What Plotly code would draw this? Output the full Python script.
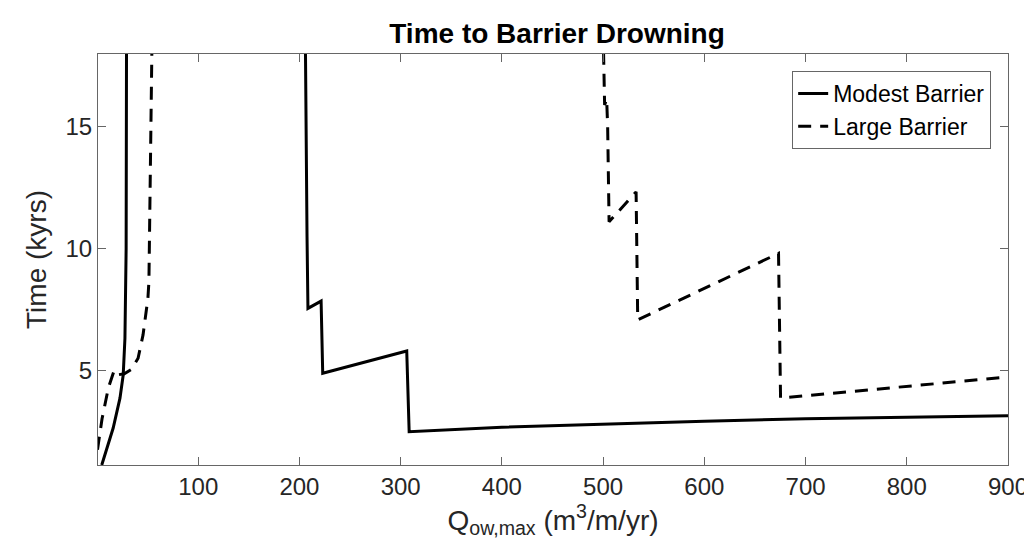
import plotly.graph_objects as go

# Modest Barrier (solid) - two branches separated by a gap
modest_x = [4.7, 10, 16, 22.7, 25.9, 27.6, 28.2, 28.8, 29.2, None,
            205.5, 206, 207.5, 208.4, 221.4, 223, 306, 308.4,
            400, 500, 600, 700, 800, 900]
modest_y = [1.1, 1.85, 2.62, 3.85, 4.8, 6.3, 7.5, 10, 19, None,
            19, 17.9, 10.5, 7.54, 7.84, 4.87, 5.79, 2.47,
            2.65, 2.79, 2.9, 3.0, 3.07, 3.13]

# Large Barrier (dashed)
large_x = [0.5, 5, 11.2, 16.8, 19.4, 27, 34, 40.6, 45.5, 48.7, 50.3, 51.3, 53.6, 54.5, None,
           500, 500.5, 501.5, 503.5, 504.5, 505.9, 532.6, 534.2, 673.3, 675.3, 900]
large_y = [1.73, 3.0, 4.26, 4.97, 4.8, 4.85, 5.03, 5.49, 6.45, 7.54, 7.95, 8.65, 18, 19, None,
           19, 17.9, 15.9, 16.15, 15.0, 11.1, 12.33, 7.07, 9.8, 3.85, 4.72]

x_ticks = [100, 200, 300, 400, 500, 600, 700, 800, 900]
y_ticks = [5, 10, 15]

FONT = "Arial, 'Liberation Sans', Helvetica, sans-serif"

fig = go.Figure()
fig.add_trace(go.Scatter(x=modest_x, y=modest_y, mode="lines", name="Modest Barrier",
                         line=dict(color="black", width=3), connectgaps=False))
fig.add_trace(go.Scatter(x=large_x, y=large_y, mode="lines", name="Large Barrier",
                         line=dict(color="black", width=3, dash="13px,9px"), connectgaps=False))

axis_common = dict(showline=True, linecolor="#666666", linewidth=1, mirror="ticks",
                   ticks="inside", ticklen=8, tickcolor="#666666", showgrid=False,
                   zeroline=False, tickfont=dict(family=FONT, size=24, color="#262626"))

fig.update_layout(
    width=1032, height=550,
    margin=dict(l=90, r=24, t=46, b=93),
    plot_bgcolor="white", paper_bgcolor="white",
    title=dict(text="<b>Time to Barrier Drowning</b>", x=0.532, xanchor="center",
               y=1 - 25 / 550, yanchor="middle", yref="container",
               font=dict(family=FONT, size=28, color="black")),
    xaxis=dict(range=[1, 900], tickvals=x_ticks, **axis_common,
               title=dict(text="Q<sub>ow,max</sub> (m<sup>3</sup>/m/yr)",
                          font=dict(family=FONT, size=28, color="#262626"), standoff=6)),
    yaxis=dict(range=[1.1, 18], tickvals=y_ticks, **axis_common,
               title=dict(text="Time (kyrs)", font=dict(family=FONT, size=28, color="#262626"),
                          standoff=10)),
    legend=dict(x=0.9815, y=0.9586, xanchor="right", yanchor="top",
                bordercolor="#666666", borderwidth=1, bgcolor="white",
                font=dict(family=FONT, size=23, color="black"),
                tracegroupgap=0, itemwidth=30),
    showlegend=True,
)

fig.write_html("out.html")
